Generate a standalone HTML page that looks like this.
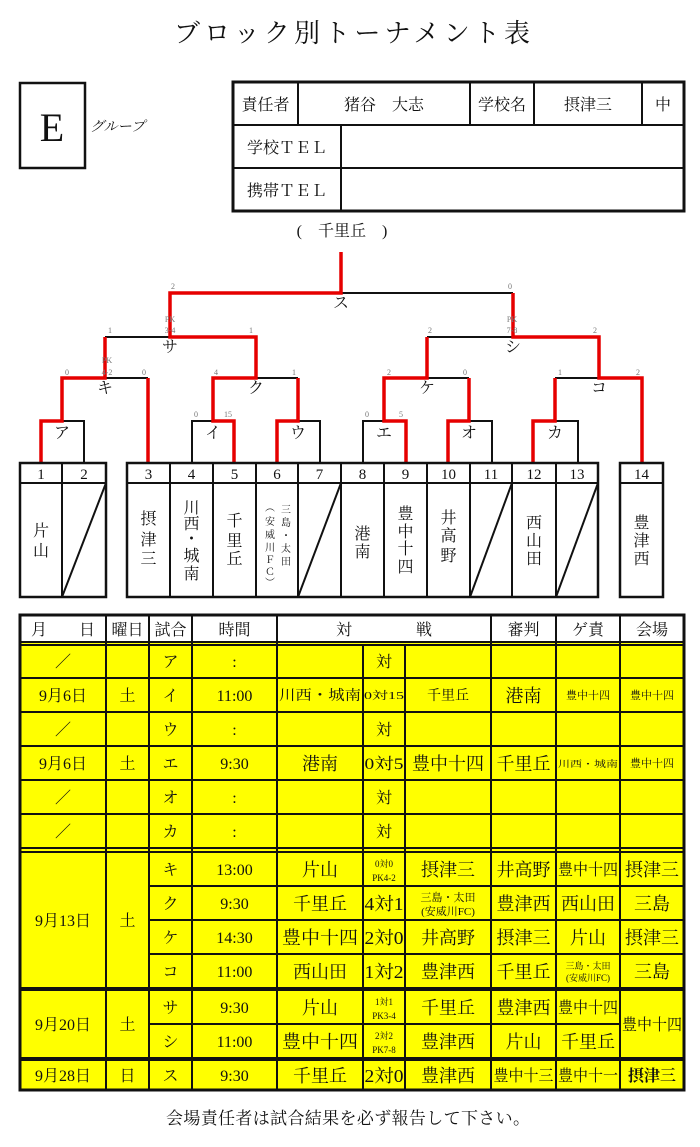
<!DOCTYPE html>
<html><head><meta charset="utf-8"><style>
html,body{margin:0;padding:0;background:#fff;}
svg{display:block;}
text{font-family:"Liberation Serif","Noto Serif CJK SC",serif;fill:#111;}
.s{font-size:8px;fill:#777;}
.l{font-size:16px;}
.t{font-size:16px;}
</style></head><body>
<svg width="700" height="1147" viewBox="0 0 700 1147" xmlns="http://www.w3.org/2000/svg">
<text x="352" y="42" text-anchor="middle" style="font-size:26px" textLength="356" lengthAdjust="spacing" fill="#222">ブロック別トーナメント表</text>
<rect x="20" y="83" width="65" height="85" fill="none" stroke="#111" stroke-width="2.5"/>
<text x="52" y="141" text-anchor="middle" style="font-size:40px">E</text>
<text x="90" y="131" style="font-size:14px;font-style:italic">グループ</text>
<g fill="none" stroke="#111">
<rect x="233" y="82" width="451" height="129" stroke-width="3"/>
<line x1="233" y1="125" x2="684" y2="125" stroke-width="2"/>
<line x1="233" y1="168" x2="684" y2="168" stroke-width="2"/>
<line x1="298" y1="82" x2="298" y2="125" stroke-width="2"/>
<line x1="470" y1="82" x2="470" y2="125" stroke-width="2"/>
<line x1="534" y1="82" x2="534" y2="125" stroke-width="2"/>
<line x1="642" y1="82" x2="642" y2="125" stroke-width="2"/>
<line x1="341" y1="125" x2="341" y2="211" stroke-width="2"/>
</g>
<text x="265.5" y="110" text-anchor="middle" class="t">責任者</text>
<text x="384" y="110" text-anchor="middle" class="t">猪谷　大志</text>
<text x="502" y="110" text-anchor="middle" class="t">学校名</text>
<text x="588" y="110" text-anchor="middle" class="t">摂津三</text>
<text x="663" y="110" text-anchor="middle" class="t">中</text>
<text x="287" y="153" text-anchor="middle" class="t">学校ＴＥＬ</text>
<text x="287" y="196" text-anchor="middle" class="t">携帯ＴＥＬ</text>
<text x="342" y="236" text-anchor="middle" style="font-size:16px">(　千里丘　)</text>

<g fill="none" stroke="#111" stroke-width="2">
<line x1="170" y1="293" x2="513" y2="293"/>
<line x1="105" y1="337" x2="256" y2="337"/>
<line x1="427" y1="337" x2="599" y2="337"/>
<line x1="62" y1="378" x2="148" y2="378"/>
<line x1="213" y1="378" x2="298" y2="378"/>
<line x1="384" y1="378" x2="469" y2="378"/>
<line x1="555" y1="378" x2="642" y2="378"/>
<path d="M41 463V421H84V463"/>
<path d="M192 463V421H234V463"/>
<path d="M277 463V421H320V463"/>
<path d="M363 463V421H406V463"/>
<path d="M448 463V421H492V463"/>
<path d="M533 463V421H578V463"/>
</g>
<g fill="none" stroke="#e60000" stroke-width="3.5">
<path d="M341 252V293H170V337H256V378H213V421H234V463"/>
<path d="M105 337V378H62V421H41V463"/>
<path d="M148 378V463"/>
<path d="M298 378V421H277V463"/>
<path d="M513 293V337H599V378H642V463"/>
<path d="M427 337V378H384V421H406V463"/>
<path d="M469 378V421H448V463"/>
<path d="M555 378V421H533V463"/>
</g>
<text class="s" x="173" y="289" text-anchor="middle">2</text>
<text class="s" x="510" y="289" text-anchor="middle">0</text>
<text class="s" x="110" y="333" text-anchor="middle">1</text>
<text class="s" x="170" y="322" text-anchor="middle">PK</text>
<text class="s" x="170" y="333" text-anchor="middle">3-4</text>
<text class="s" x="251" y="333" text-anchor="middle">1</text>
<text class="s" x="430" y="333" text-anchor="middle">2</text>
<text class="s" x="512" y="322" text-anchor="middle">PK</text>
<text class="s" x="512" y="333" text-anchor="middle">7-8</text>
<text class="s" x="595" y="333" text-anchor="middle">2</text>
<text class="s" x="67" y="375" text-anchor="middle">0</text>
<text class="s" x="107" y="363" text-anchor="middle">PK</text>
<text class="s" x="107" y="375" text-anchor="middle">4-2</text>
<text class="s" x="144" y="375" text-anchor="middle">0</text>
<text class="s" x="216" y="375" text-anchor="middle">4</text>
<text class="s" x="294" y="375" text-anchor="middle">1</text>
<text class="s" x="389" y="375" text-anchor="middle">2</text>
<text class="s" x="465" y="375" text-anchor="middle">0</text>
<text class="s" x="560" y="375" text-anchor="middle">1</text>
<text class="s" x="638" y="375" text-anchor="middle">2</text>
<text class="s" x="196" y="417" text-anchor="middle">0</text>
<text class="s" x="228" y="417" text-anchor="middle">15</text>
<text class="s" x="367" y="417" text-anchor="middle">0</text>
<text class="s" x="401" y="417" text-anchor="middle">5</text>
<text class="l" x="341" y="308" text-anchor="middle">ス</text>
<text class="l" x="170" y="352" text-anchor="middle">サ</text>
<text class="l" x="513" y="352" text-anchor="middle">シ</text>
<text class="l" x="105" y="393" text-anchor="middle">キ</text>
<text class="l" x="256" y="393" text-anchor="middle">ク</text>
<text class="l" x="427" y="393" text-anchor="middle">ケ</text>
<text class="l" x="599" y="393" text-anchor="middle">コ</text>
<text class="l" x="62" y="438" text-anchor="middle">ア</text>
<text class="l" x="213" y="438" text-anchor="middle">イ</text>
<text class="l" x="298" y="438" text-anchor="middle">ウ</text>
<text class="l" x="384" y="438" text-anchor="middle">エ</text>
<text class="l" x="469" y="438" text-anchor="middle">オ</text>
<text class="l" x="555" y="438" text-anchor="middle">カ</text>

<g fill="none" stroke="#111" stroke-width="2">
<rect x="20" y="463" width="86" height="134" stroke-width="2.5"/>
<rect x="127" y="463" width="471" height="134" stroke-width="2.5"/>
<rect x="620" y="463" width="43" height="134" stroke-width="2.5"/>
<line x1="20" y1="483" x2="106" y2="483"/>
<line x1="127" y1="483" x2="598" y2="483"/>
<line x1="620" y1="483" x2="663" y2="483"/>
<line x1="62" y1="463" x2="62" y2="597"/>
<line x1="170" y1="463" x2="170" y2="597"/>
<line x1="213" y1="463" x2="213" y2="597"/>
<line x1="256" y1="463" x2="256" y2="597"/>
<line x1="298" y1="463" x2="298" y2="597"/>
<line x1="341" y1="463" x2="341" y2="597"/>
<line x1="384" y1="463" x2="384" y2="597"/>
<line x1="427" y1="463" x2="427" y2="597"/>
<line x1="470" y1="463" x2="470" y2="597"/>
<line x1="512" y1="463" x2="512" y2="597"/>
<line x1="556" y1="463" x2="556" y2="597"/>
<line x1="62" y1="597" x2="106" y2="483"/>
<line x1="298" y1="597" x2="341" y2="483"/>
<line x1="470" y1="597" x2="512" y2="483"/>
<line x1="556" y1="597" x2="598" y2="483"/>
</g>
<g style="font-size:15px" text-anchor="middle">
<text x="41" y="479">1</text><text x="84" y="479">2</text>
<text x="148.5" y="479">3</text><text x="191.5" y="479">4</text><text x="234.5" y="479">5</text>
<text x="277" y="479">6</text><text x="319.5" y="479">7</text><text x="362.5" y="479">8</text>
<text x="405.5" y="479">9</text><text x="448.5" y="479">10</text><text x="491" y="479">11</text>
<text x="534" y="479">12</text><text x="577" y="479">13</text><text x="641.5" y="479">14</text>
</g>
<g style="font-size:16px" text-anchor="middle">
<text x="41" y="536">片</text><text x="41" y="556">山</text>
<text x="148.5" y="524">摂</text><text x="148.5" y="545">津</text><text x="148.5" y="564">三</text>
<text x="191.5" y="513">川</text><text x="191.5" y="529">西</text><text x="191.5" y="544">・</text><text x="191.5" y="561">城</text><text x="191.5" y="579">南</text>
<text x="234.5" y="526">千</text><text x="234.5" y="546">里</text><text x="234.5" y="564">丘</text>
<text x="362.5" y="539">港</text><text x="362.5" y="557">南</text>
<text x="405.5" y="519">豊</text><text x="405.5" y="537">中</text><text x="405.5" y="554">十</text><text x="405.5" y="572">四</text>
<text x="448.5" y="523">井</text><text x="448.5" y="541">高</text><text x="448.5" y="561">野</text>
<text x="534" y="528">西</text><text x="534" y="546">山</text><text x="534" y="564">田</text>
<text x="641.5" y="528">豊</text><text x="641.5" y="546">津</text><text x="641.5" y="564">西</text>
</g>
<g style="font-size:10px" text-anchor="middle">
<text x="286" y="513">三</text><text x="286" y="526">島</text><text x="286" y="539">・</text><text x="286" y="552">太</text><text x="286" y="565">田</text>
<text x="270" y="511">︵</text><text x="270" y="525">安</text><text x="270" y="538">威</text><text x="270" y="551">川</text><text x="270" y="563">Ｆ</text><text x="270" y="575">Ｃ</text><text x="270" y="586">︶</text>
</g>

<rect x="20" y="643" width="664" height="447" fill="#ffff00"/>
<rect x="20" y="615" width="664" height="27" fill="#fff"/>
<g fill="none" stroke="#111" stroke-width="2">
<rect x="20" y="615" width="664" height="475" stroke-width="3"/>
<line x1="20" y1="642" x2="684" y2="642"/>
<line x1="20" y1="645" x2="684" y2="645"/>
<line x1="20" y1="678" x2="684" y2="678"/>
<line x1="20" y1="712" x2="684" y2="712"/>
<line x1="20" y1="746" x2="684" y2="746"/>
<line x1="20" y1="780" x2="684" y2="780"/>
<line x1="20" y1="814" x2="684" y2="814"/>
<line x1="20" y1="848" x2="684" y2="848"/>
<line x1="20" y1="852" x2="684" y2="852"/>
<line x1="149" y1="886" x2="684" y2="886"/>
<line x1="149" y1="920" x2="684" y2="920"/>
<line x1="149" y1="954" x2="684" y2="954"/>
<line x1="20" y1="989" x2="684" y2="989" stroke-width="4"/>
<line x1="149" y1="1024" x2="620" y2="1024"/>
<line x1="20" y1="1059" x2="684" y2="1059" stroke-width="4"/>
<line x1="106" y1="615" x2="106" y2="1090"/>
<line x1="149" y1="615" x2="149" y2="1090"/>
<line x1="192" y1="615" x2="192" y2="1090"/>
<line x1="277" y1="615" x2="277" y2="1090"/>
<line x1="363" y1="645" x2="363" y2="1090"/>
<line x1="405" y1="645" x2="405" y2="1090"/>
<line x1="491" y1="615" x2="491" y2="1090"/>
<line x1="556" y1="615" x2="556" y2="1090"/>
<line x1="620" y1="615" x2="620" y2="1090"/>
</g>
<g style="font-size:16px" text-anchor="middle">
<text x="63" y="635">月　　日</text>
<text x="127.5" y="635">曜日</text>
<text x="170.5" y="635">試合</text>
<text x="234.5" y="635">時間</text>
<text x="384" y="635">対　　　　戦</text>
<text x="523.5" y="635">審判</text>
<text x="588" y="635">ゲ責</text>
<text x="652" y="635">会場</text>
<text x="63" y="667">／</text><text x="170.5" y="667">ア</text><text x="234.5" y="667">:</text><text x="384" y="667">対</text>
<text x="63" y="701">9月6日</text><text x="127.5" y="701">土</text><text x="170.5" y="701">イ</text><text x="234.5" y="701">11:00</text>
<text x="320" y="700" style="font-size:14px" textLength="82" lengthAdjust="spacingAndGlyphs">川西・城南</text>
<text x="384" y="699" style="font-size:11px" textLength="40" lengthAdjust="spacingAndGlyphs">0対15</text>
<text x="448" y="700" style="font-size:14px">千里丘</text>
<text x="523.5" y="702" style="font-size:18px">港南</text>
<text x="588" y="699" style="font-size:11px">豊中十四</text>
<text x="652" y="699" style="font-size:11px">豊中十四</text>
<text x="63" y="735">／</text><text x="170.5" y="735">ウ</text><text x="234.5" y="735">:</text><text x="384" y="735">対</text>
<text x="63" y="769">9月6日</text><text x="127.5" y="769">土</text><text x="170.5" y="769">エ</text><text x="234.5" y="769">9:30</text>
<text x="320" y="770" style="font-size:18px">港南</text>
<text x="384" y="769" style="font-size:16px" textLength="39" lengthAdjust="spacingAndGlyphs">0対5</text>
<text x="448" y="770" style="font-size:18px">豊中十四</text>
<text x="523.5" y="770" style="font-size:18px">千里丘</text>
<text x="588" y="767" style="font-size:9px" textLength="60" lengthAdjust="spacingAndGlyphs">川西・城南</text>
<text x="652" y="767" style="font-size:11px">豊中十四</text>
<text x="63" y="803">／</text><text x="170.5" y="803">オ</text><text x="234.5" y="803">:</text><text x="384" y="803">対</text>
<text x="63" y="837">／</text><text x="170.5" y="837">カ</text><text x="234.5" y="837">:</text><text x="384" y="837">対</text>
<text x="63" y="926">9月13日</text><text x="127.5" y="926">土</text>
<text x="170.5" y="875">キ</text><text x="234.5" y="875">13:00</text><text x="320" y="876" style="font-size:18px">片山</text>
<text x="384" y="867" style="font-size:9px">0対0</text><text x="384" y="881" style="font-size:9px">PK4-2</text>
<text x="448" y="876" style="font-size:18px">摂津三</text><text x="523.5" y="876" style="font-size:18px">井高野</text>
<text x="588" y="875" style="font-size:16px" textLength="60" lengthAdjust="spacingAndGlyphs">豊中十四</text>
<text x="652" y="876" style="font-size:18px">摂津三</text>
<text x="170.5" y="909">ク</text><text x="234.5" y="909">9:30</text><text x="320" y="910" style="font-size:18px">千里丘</text>
<text x="384" y="910" style="font-size:18px" textLength="39" lengthAdjust="spacingAndGlyphs">4対1</text>
<text x="448" y="901" style="font-size:11px">三島・太田</text><text x="448" y="915" style="font-size:11px">(安威川FC)</text>
<text x="523.5" y="910" style="font-size:18px">豊津西</text><text x="588" y="910" style="font-size:18px">西山田</text><text x="652" y="910" style="font-size:18px">三島</text>
<text x="170.5" y="943">ケ</text><text x="234.5" y="943">14:30</text>
<text x="320" y="944" style="font-size:18px" textLength="76" lengthAdjust="spacingAndGlyphs">豊中十四</text>
<text x="384" y="944" style="font-size:18px" textLength="39" lengthAdjust="spacingAndGlyphs">2対0</text>
<text x="448" y="944" style="font-size:18px">井高野</text><text x="523.5" y="944" style="font-size:18px">摂津三</text>
<text x="588" y="944" style="font-size:18px">片山</text><text x="652" y="944" style="font-size:18px">摂津三</text>
<text x="170.5" y="977">コ</text><text x="234.5" y="977">11:00</text><text x="320" y="978" style="font-size:18px">西山田</text>
<text x="384" y="978" style="font-size:18px" textLength="39" lengthAdjust="spacingAndGlyphs">1対2</text>
<text x="448" y="978" style="font-size:18px">豊津西</text><text x="523.5" y="978" style="font-size:18px">千里丘</text>
<text x="588" y="969" style="font-size:9px">三島・太田</text><text x="588" y="981" style="font-size:9px">(安威川FC)</text>
<text x="652" y="978" style="font-size:18px">三島</text>
<text x="63" y="1030">9月20日</text><text x="127.5" y="1030">土</text>
<text x="170.5" y="1013">サ</text><text x="234.5" y="1013">9:30</text><text x="320" y="1014" style="font-size:18px">片山</text>
<text x="384" y="1005" style="font-size:9px">1対1</text><text x="384" y="1019" style="font-size:9px">PK3-4</text>
<text x="448" y="1014" style="font-size:18px">千里丘</text><text x="523.5" y="1014" style="font-size:18px">豊津西</text>
<text x="588" y="1013" style="font-size:16px" textLength="60" lengthAdjust="spacingAndGlyphs">豊中十四</text>
<text x="652" y="1030" style="font-size:16px" textLength="60" lengthAdjust="spacingAndGlyphs">豊中十四</text>
<text x="170.5" y="1047">シ</text><text x="234.5" y="1047">11:00</text>
<text x="320" y="1048" style="font-size:18px" textLength="76" lengthAdjust="spacingAndGlyphs">豊中十四</text>
<text x="384" y="1039" style="font-size:9px">2対2</text><text x="384" y="1053" style="font-size:9px">PK7-8</text>
<text x="448" y="1048" style="font-size:18px">豊津西</text><text x="523.5" y="1048" style="font-size:18px">片山</text>
<text x="588" y="1048" style="font-size:18px">千里丘</text>
<text x="63" y="1081">9月28日</text><text x="127.5" y="1081">日</text><text x="170.5" y="1081">ス</text><text x="234.5" y="1081">9:30</text>
<text x="320" y="1082" style="font-size:18px">千里丘</text>
<text x="384" y="1082" style="font-size:18px" textLength="39" lengthAdjust="spacingAndGlyphs">2対0</text>
<text x="448" y="1082" style="font-size:18px">豊津西</text>
<text x="523.5" y="1081" style="font-size:16px" textLength="60" lengthAdjust="spacingAndGlyphs">豊中十三</text>
<text x="588" y="1081" style="font-size:16px" textLength="60" lengthAdjust="spacingAndGlyphs">豊中十一</text>
<text x="652" y="1081" style="font-size:16px;font-weight:bold">摂津三</text>
</g>
<text x="348" y="1124" text-anchor="middle" style="font-size:17px" textLength="364" lengthAdjust="spacing" fill="#333">会場責任者は試合結果を必ず報告して下さい。</text>
</svg>
</body></html>
